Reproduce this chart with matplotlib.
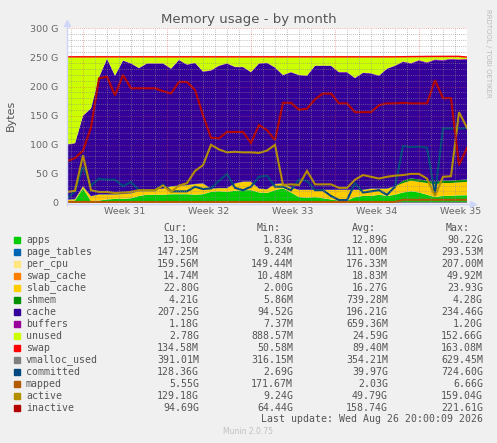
import numpy as np
import matplotlib
matplotlib.use("Agg")
import matplotlib.pyplot as plt

# samples every 2/3 day over the month window
n = 51
t = np.linspace(0, 33.3333, n)

apps = [3, 4, 25, 3, 4, 6, 7, 7, 8, 12, 14, 14, 14, 15, 15, 15, 14, 15, 19, 20,
        19, 21, 22, 22, 18, 17, 22, 25, 18, 10, 9, 10, 8, 6, 4, 4, 10, 12, 12, 14,
        12, 14, 18, 20, 18, 14, 10, 12, 12, 13, 13.1]
page_tables = [0.10, 0.10, 0.12, 0.11, 0.11, 0.10, 0.10, 0.11, 0.11, 0.12, 0.12, 0.11, 0.11, 0.10, 0.10, 0.11, 0.11,
               0.12, 0.12, 0.11, 0.11, 0.10, 0.10, 0.11, 0.11, 0.12, 0.12, 0.11, 0.11, 0.10, 0.10, 0.11, 0.11, 0.12,
               0.12, 0.11, 0.11, 0.10, 0.10, 0.11, 0.11, 0.12, 0.13, 0.14, 0.14, 0.14, 0.15, 0.15, 0.15, 0.15, 0.15]
per_cpu = [0.18, 0.18, 0.18, 0.18, 0.18, 0.18, 0.18, 0.18, 0.18, 0.18, 0.18, 0.18, 0.18, 0.18, 0.18, 0.18, 0.18,
           0.18, 0.18, 0.18, 0.18, 0.18, 0.18, 0.18, 0.18, 0.17, 0.17, 0.17, 0.17, 0.17, 0.17, 0.17, 0.17, 0.17,
           0.17, 0.17, 0.17, 0.17, 0.17, 0.17, 0.17, 0.17, 0.16, 0.16, 0.16, 0.16, 0.16, 0.16, 0.16, 0.16, 0.16]
swap_cache = [0.02, 0.02, 0.02, 0.02, 0.02, 0.02, 0.02, 0.02, 0.02, 0.02, 0.02, 0.02, 0.02, 0.02, 0.02, 0.02, 0.02,
              0.02, 0.02, 0.02, 0.02, 0.02, 0.02, 0.02, 0.02, 0.02, 0.02, 0.02, 0.02, 0.02, 0.02, 0.02, 0.02, 0.02,
              0.02, 0.02, 0.02, 0.02, 0.02, 0.02, 0.02, 0.02, 0.01, 0.01, 0.01, 0.01, 0.01, 0.01, 0.01, 0.01, 0.01]
slab_cache = [2, 2, 3, 8, 10, 8, 7, 8, 8, 8, 8, 9, 10, 13, 14, 15, 18, 18, 5, 5,
              6, 12, 14, 14, 6, 6, 10, 8, 8, 12, 13, 12, 14, 16, 18, 18, 12, 10, 12, 10,
              12, 14, 16, 18, 18, 20, 22, 22, 22, 22, 22.8]
shmem = [0.4, 0.5, 0.5, 0.5, 0.5, 0.5, 0.5, 0.5, 0.5, 0.5, 0.5, 0.5, 0.5, 0.5, 0.5, 0.5, 0.5,
         0.5, 0.5, 0.5, 0.5, 0.5, 0.5, 0.5, 0.5, 0.5, 0.5, 0.5, 0.5, 0.5, 0.5, 0.5, 0.5, 0.5,
         0.5, 0.5, 0.5, 0.5, 0.5, 0.5, 0.5, 0.5, 4.0, 4.1, 4.1, 4.2, 4.2, 4.2, 4.2, 4.2, 4.2]
cache = [94.6, 95.5, 120.5, 150.5, 200.5, 232.5, 203.5, 228.5, 222.5, 210.5, 216.5, 215.5, 214.5,
         201.5, 215.5, 206.5, 207.5, 191.5, 202.5, 209.5, 213.5, 199.5, 196.5, 187.5, 214.5, 216.5,
         199.5, 185.5, 197.5, 196.5, 195.5, 212.5, 212.5, 212.5, 201.5, 201.5, 191.5, 200.5, 197.5,
         193.5, 205.5, 206.5, 204, 197, 204, 202, 209, 206, 208, 206, 206]
buffers = [0.66, 0.66, 0.66, 0.66, 0.66, 0.66, 0.66, 0.66, 0.66, 0.66, 0.66, 0.66, 0.66, 0.66, 0.66, 0.66, 0.66,
           0.66, 0.66, 0.66, 0.66, 0.66, 0.66, 0.66, 0.66, 0.66, 0.66, 0.66, 0.66, 0.66, 0.66, 0.66, 0.66, 0.66,
           0.66, 0.66, 0.66, 0.66, 0.66, 0.66, 0.66, 0.66, 0.8, 0.9, 1.0, 1.1, 1.1, 1.2, 1.2, 1.2, 1.18]
unused = [149.9, 148, 101, 88, 35, 3, 32, 6, 11, 19, 11, 11, 11, 20, 5, 13, 10, 25, 23, 15,
          11, 17, 17, 26, 11, 10, 18, 31, 26, 31, 32, 15, 15, 15, 26, 26, 36, 27, 28, 32,
          20, 15, 8, 11, 6, 10, 5, 6, 4, 5, 2.8]
swap = [0.09, 0.09, 0.09, 0.09, 0.09, 0.09, 0.09, 0.09, 0.09, 0.09, 0.09, 0.09, 0.09, 0.09, 0.09, 0.09, 0.09,
        0.09, 0.09, 0.09, 0.09, 0.09, 0.09, 0.09, 0.09, 0.09, 0.09, 0.09, 0.09, 0.09, 0.09, 0.09, 0.09, 0.09,
        0.09, 0.09, 0.09, 0.09, 0.09, 0.09, 0.09, 0.09, 0.13, 0.13, 0.13, 0.13, 0.13, 0.13, 0.13, 0.13, 0.13]

vmalloc_used = [0.35, 0.35, 0.35, 0.35, 0.35, 0.35, 0.35, 0.35, 0.35, 0.35, 0.35, 0.35, 0.35, 0.35, 0.35, 0.35, 0.35,
                0.35, 0.35, 0.35, 0.35, 0.35, 0.35, 0.35, 0.35, 0.35, 0.35, 0.35, 0.35, 0.35, 0.35, 0.35, 0.35, 0.35,
                0.35, 0.35, 0.35, 0.35, 0.35, 0.35, 0.35, 0.35, 0.39, 0.39, 0.39, 0.39, 0.39, 0.39, 0.39, 0.39, 0.39]
committed = [8, 20, 62, 30, 42, 40, 40, 29, 36, 22, 22, 22, 32, 20, 20, 20, 28, 24, 25, 38,
             50, 26, 22, 28, 45, 47, 28, 28, 22, 40, 38, 22, 22, 12, 5, 5, 34, 18, 20, 22,
             14, 28, 98, 96, 97, 95, 15, 128, 128, 128, 128.4]
mapped = [1.8, 1.8, 2.0, 1.8, 1.8, 1.8, 1.8, 1.8, 1.8, 1.8, 1.8, 1.8, 1.8, 1.8, 1.8, 1.8, 1.8,
          1.8, 1.8, 1.8, 1.8, 1.8, 1.8, 1.8, 1.8, 1.8, 1.8, 1.8, 1.8, 1.8, 1.8, 1.8, 1.8, 1.8,
          1.8, 1.8, 1.8, 1.8, 1.8, 1.8, 1.8, 1.8, 5.5, 5.5, 5.5, 5.5, 5.5, 5.5, 5.5, 5.5, 5.55]
active = [19, 21, 82, 22, 19, 19, 17, 18, 19, 22, 22, 22, 30, 19, 30, 34, 55, 65, 100, 92,
          87, 88, 87, 87, 86, 90, 100, 31, 32, 31, 55, 32, 32, 32, 26, 26, 40, 48, 45, 42,
          45, 47, 48, 50, 50, 42, 12, 45, 46, 156, 129.2]
inactive = [72, 77, 90, 130, 214, 217, 185, 220, 197, 197, 197, 197, 192, 188, 208, 208, 194, 151, 112, 111,
            122, 122, 122, 103, 134, 125, 108, 172, 172, 160, 162, 178, 188, 188, 171, 171, 156, 156, 156, 168,
            171, 171, 172, 171, 171, 171, 211, 180, 180, 65, 94.7]

stack_names = ["apps", "page_tables", "per_cpu", "swap_cache", "slab_cache", "shmem",
               "cache", "buffers", "unused", "swap"]
stack_vals = [apps, page_tables, per_cpu, swap_cache, slab_cache, shmem, cache, buffers, unused, swap]
line_names = ["vmalloc_used", "committed", "mapped", "active", "inactive"]
line_vals = [vmalloc_used, committed, mapped, active, inactive]

colors = {"apps": "#00CC00", "page_tables": "#0066B3", "per_cpu": "#FFE680",
          "swap_cache": "#FF8000", "slab_cache": "#FFCC00", "shmem": "#008F00",
          "cache": "#330099", "buffers": "#990099", "unused": "#CCFF00", "swap": "#FF0000",
          "vmalloc_used": "#808080", "committed": "#00487D", "mapped": "#B35A00",
          "active": "#B38F00", "inactive": "#B30000"}

legend_rows = [
    ("apps", "13.10G", "1.83G", "12.89G", "90.22G"),
    ("page_tables", "147.25M", "9.24M", "111.00M", "293.53M"),
    ("per_cpu", "159.56M", "149.44M", "176.33M", "207.00M"),
    ("swap_cache", "14.74M", "10.48M", "18.83M", "49.92M"),
    ("slab_cache", "22.80G", "2.00G", "16.27G", "23.93G"),
    ("shmem", "4.21G", "5.86M", "739.28M", "4.28G"),
    ("cache", "207.25G", "94.52G", "196.21G", "234.46G"),
    ("buffers", "1.18G", "7.37M", "659.36M", "1.20G"),
    ("unused", "2.78G", "888.57M", "24.59G", "152.66G"),
    ("swap", "134.58M", "50.58M", "89.40M", "163.08M"),
    ("vmalloc_used", "391.01M", "316.15M", "354.21M", "629.45M"),
    ("committed", "128.36G", "2.69G", "39.97G", "724.60G"),
    ("mapped", "5.55G", "171.67M", "2.03G", "6.66G"),
    ("active", "129.18G", "9.24G", "49.79G", "159.04G"),
    ("inactive", "94.69G", "64.44G", "158.74G", "221.61G"),
]

W, H = 497, 443
fig = plt.figure(figsize=(W / 100, H / 100), dpi=100, facecolor="#F0F0F0")
ax = fig.add_axes([67 / W, (H - 203) / H, 400 / W, (203 - 28.3) / H])
ax.set_facecolor("white")

ax.stackplot(t, *stack_vals, colors=[colors[k] for k in stack_names], linewidth=0, zorder=2)
top = np.sum(np.array(stack_vals), axis=0)
ax.plot(t, top, color="#FF0000", lw=1.0, zorder=3)
for name, vals in zip(line_names, line_vals):
    ax.plot(t, vals, color=colors[name], lw=1.5, zorder=4, solid_joinstyle="miter")

ax.set_xlim(0, 33.3333)
ax.set_ylim(0, 300)

# rrdtool style grid
minor_c = (0.56, 0.56, 0.56, 0.75)
major_c = (0.87, 0.31, 0.31, 0.6)
dots = (0, (1, 1.5))
for v in range(10, 300, 10):
    ax.axhline(v, color=major_c if v % 50 == 0 else minor_c, lw=0.6, ls=dots, zorder=5)
ax.axhline(300, color=major_c, lw=0.6, ls=dots, zorder=5)
for d in np.arange(0.3333, 33.4, 1.0):
    is_major = abs(((d - 1.3333) / 7) - round((d - 1.3333) / 7)) < 0.01
    ax.axvline(d, color=major_c if is_major else minor_c, lw=0.6, ls=dots, zorder=5)

for s in ax.spines.values():
    s.set_visible(False)

week_pos = [4.8333, 11.8333, 18.8333, 25.8333, 32.8333]
ax.set_xticks(week_pos)
ax.set_xticklabels(["Week 31", "Week 32", "Week 33", "Week 34", "Week 35"])
ax.set_yticks([0, 50, 100, 150, 200, 250, 300])
ax.set_yticklabels(["0", "50 G", "100 G", "150 G", "200 G", "250 G", "300 G"])
ax.tick_params(axis="both", length=0, labelsize=6.8, colors="#666666")
ax.tick_params(axis="y", pad=6)
ax.tick_params(axis="x", pad=3)

# axes with arrows
axis_c = "#CFD6F8"
fig.add_artist(plt.Line2D([67 / W, 470 / W], [(H - 203.5) / H, (H - 203.5) / H], color=axis_c, lw=1))
fig.add_artist(plt.Line2D([66.5 / W, 66.5 / W], [(H - 205) / H, (H - 24) / H], color=axis_c, lw=1))
fig.add_artist(plt.Line2D([473 / W], [(H - 203.5) / H], marker=">", ms=4, color=axis_c, mec=axis_c))
fig.add_artist(plt.Line2D([66.5 / W], [(H - 23) / H], marker="^", ms=4, color=axis_c, mec=axis_c))

fig.text(249 / W, (H - 19) / H, "Memory usage - by month", ha="center", va="center",
         fontsize=9.5, color="#555555")
fig.text(11 / W, (H - 115) / H, "Bytes", rotation=90, ha="center", va="center",
         fontsize=8, color="#555555")
fig.text(488 / W, (H - 53) / H, "RRDTOOL / TOBI OETIKER", rotation=270, ha="center", va="center",
         fontsize=5, color="#BBBBBB")

# legend table
mono = "DejaVu Sans Mono"
fs = 7.1
y0 = 227.7
for xr, h in zip([187, 281, 376, 470], ["Cur:", "Min:", "Avg:", "Max:"]):
    fig.text(xr / W, (H - y0) / H, h, ha="right", va="center", family=mono, fontsize=fs, color="#555555")
for i, (name, cur, mn, avg, mx) in enumerate(legend_rows):
    y = y0 + 12 * (i + 1)
    fig.add_artist(plt.Rectangle((14 / W, (H - y - 3) / H), 6 / W, 6 / H, color=colors[name]))
    fig.text(26 / W, (H - y) / H, name, ha="left", va="center", family=mono, fontsize=fs, color="#555555")
    for xr, s in zip([199, 293, 388, 483], [cur, mn, avg, mx]):
        fig.text(xr / W, (H - y) / H, s, ha="right", va="center", family=mono, fontsize=fs, color="#555555")
fig.text(483 / W, (H - 419) / H, "Last update: Wed Aug 26 20:00:09 2026", ha="right", va="center",
         family=mono, fontsize=fs, color="#555555")
fig.text(248 / W, (H - 432) / H, "Munin 2.0.75", ha="center", va="center", fontsize=5.5, color="#C0C0C0")

fig.savefig("out.png", dpi=100, facecolor=fig.get_facecolor())
